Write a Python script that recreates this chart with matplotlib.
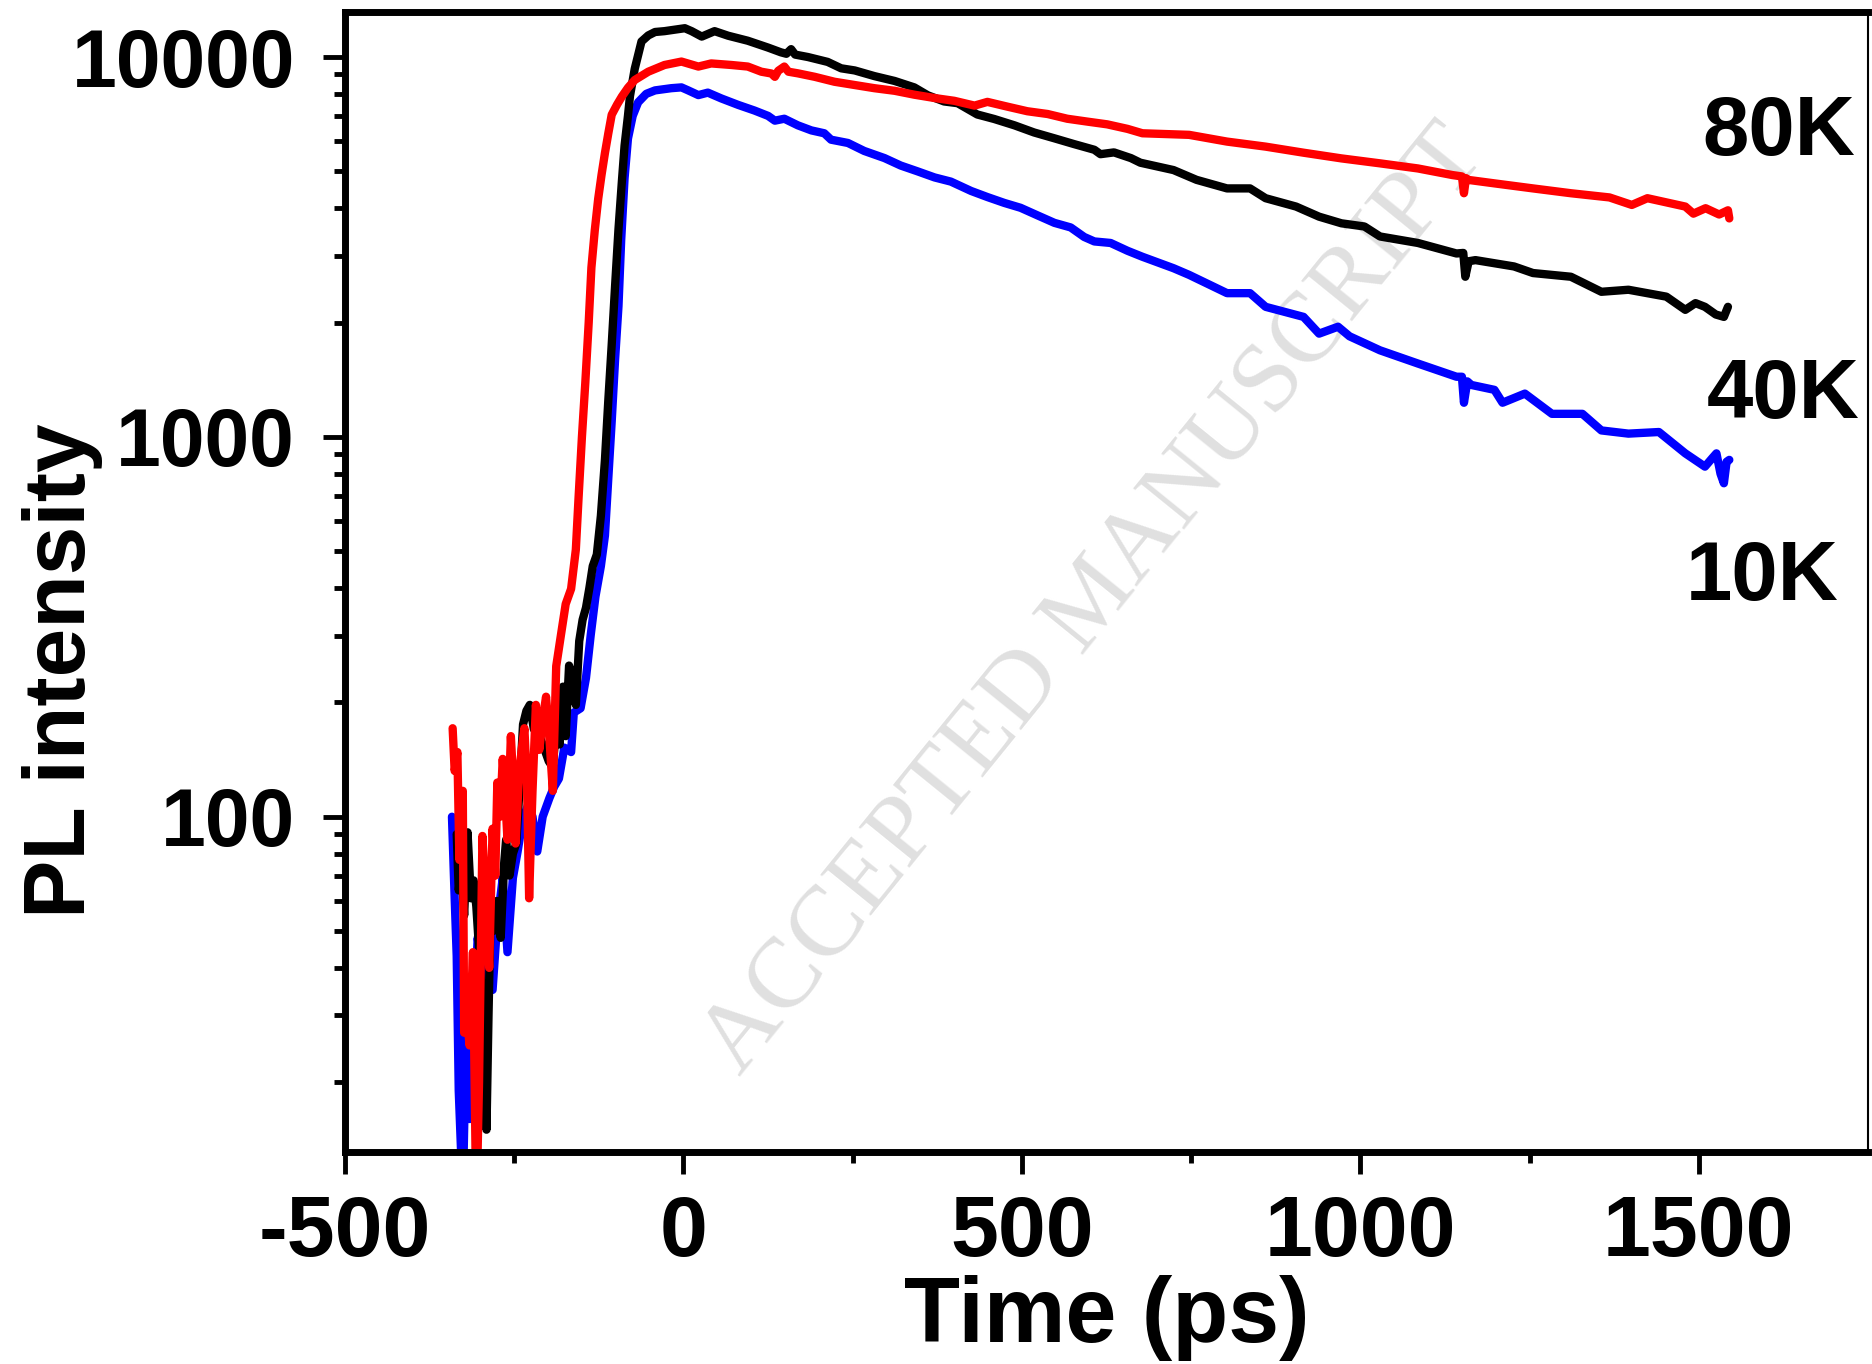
import numpy as np
import matplotlib
matplotlib.use('Agg')
import matplotlib.pyplot as plt
from matplotlib.ticker import LogLocator, NullFormatter

plt.rcParams['font.family'] = 'Liberation Sans'
plt.rcParams['font.weight'] = 'bold'
plt.rcParams['axes.unicode_minus'] = False

# 10K (blue) - time in ps, PL counts
t_10k = [-342, -338, -335, -332, -326, -321, -316, -311, -304, -297, -289, -282, -275, -267,
         -260, -252, -245, -238, -230, -223, -216, -208, -198, -191, -184, -176, -166, -162,
         -152, -144, -137, -130, -122, -116, -111, -106, -101, -96, -92, -87, -82, -75, -67,
         -55, -42, -18, -3, 7, 22, 36, 56, 81, 105, 125, 135, 149, 169, 189, 208, 218, 243,
         267, 297, 321, 346, 371, 395, 425, 449, 474, 498, 523, 548, 572, 592, 607, 631, 656,
         678, 724, 747, 803, 837, 860, 916, 939, 967, 984, 1029, 1085, 1142, 1150, 1153, 1158,
         1164, 1198, 1210, 1243, 1283, 1328, 1356, 1396, 1441, 1480, 1509, 1520, 1526, 1532,
         1537, 1541, 1545]
pl_10k = [100, 61, 43, 19, 10, 28, 16, 26, 48, 38, 54, 35, 53, 69, 44, 69, 81, 97, 107, 100,
          81, 100, 112, 120, 126, 152, 148, 188, 193, 232, 301, 380, 457, 550, 780, 1100, 1600,
          2210, 3300, 4800, 6100, 7000, 7600, 8000, 8170, 8280, 8320, 8170, 7940, 8060, 7780,
          7480, 7230, 7000, 6800, 6880, 6610, 6410, 6300, 6060, 5940, 5660, 5420, 5180, 5000,
          4820, 4700, 4440, 4280, 4130, 4010, 3830, 3660, 3560, 3360, 3270, 3240, 3090, 2980,
          2780, 2670, 2390, 2390, 2200, 2070, 1870, 1950, 1840, 1690, 1560, 1440, 1440, 1230,
          1400, 1370, 1330, 1230, 1300, 1150, 1150, 1040, 1020, 1030, 905, 835, 880, 905, 800,
          755, 860, 870]

# 40K (black)
t_40k = [-335, -332, -328, -324, -319, -314, -310, -306, -301, -296, -291, -288, -285, -281,
         -276, -270, -265, -262, -257, -252, -247, -242, -237, -232, -227, -221, -216, -211,
         -205, -199, -193, -188, -183, -178, -174, -169, -164, -159, -154, -149, -144, -139,
         -134, -128, -122, -116, -111, -106, -101, -96, -91, -87, -82, -79, -72, -62, -52,
         -42, -28, -18, 2, 12, 27, 46, 66, 95, 125, 144, 152, 159, 165, 184, 213, 233, 253,
         282, 312, 341, 361, 385, 405, 434, 459, 489, 518, 548, 577, 607, 616, 636, 661, 675,
         724, 758, 803, 837, 860, 905, 939, 972, 1006, 1029, 1085, 1142, 1152, 1155, 1160,
         1170, 1227, 1255, 1311, 1356, 1396, 1452, 1480, 1495, 1509, 1525, 1537, 1543]
pl_40k = [90, 64, 75, 55, 91, 61, 68, 58, 42, 30, 15, 30, 55, 50, 60, 48, 75, 87, 70, 80, 85,
          120, 175, 190, 197, 170, 180, 160, 150, 140, 135, 175, 155, 220, 163, 250, 230, 197,
          290, 330, 355, 400, 457, 490, 620, 870, 1250, 1750, 2500, 3520, 4700, 5850, 7000,
          7900, 9310, 10990, 11400, 11640, 11700, 11770, 11910, 11700, 11320, 11700, 11380,
          11040, 10590, 10290, 10200, 10490, 10150, 10000, 9710, 9340, 9220, 8910, 8650, 8320,
          7930, 7640, 7560, 7060, 6870, 6610, 6330, 6110, 5900, 5700, 5550, 5610, 5420, 5270,
          5040, 4750, 4510, 4510, 4250, 4040, 3800, 3650, 3580, 3370, 3240, 3040, 3050, 2640,
          2900, 2920, 2810, 2700, 2640, 2410, 2440, 2340, 2160, 2250, 2200, 2100, 2070, 2200]

# 80K (red)
t_80k = [-341, -338, -334, -331, -328, -326, -324, -320, -316, -311, -306, -302, -299, -297,
         -292, -287, -282, -278, -275, -271, -267, -263, -260, -255, -250, -248, -243, -239,
         -235, -231, -228, -226, -223, -218, -213, -208, -203, -198, -193, -188, -181, -174,
         -166, -159, -155, -150, -145, -140, -136, -131, -126, -121, -116, -111, -106, -98,
         -91, -82, -72, -52, -28, -3, 22, 41, 71, 95, 115, 130, 135, 140, 149, 155, 169, 194,
         223, 253, 282, 312, 341, 371, 400, 430, 449, 479, 508, 538, 567, 597, 626, 656, 678,
         747, 803, 860, 916, 972, 1029, 1085, 1136, 1150, 1153, 1156, 1159, 1198, 1255, 1311,
         1368, 1401, 1424, 1480, 1492, 1510, 1530, 1543, 1545]
pl_80k = [171, 132, 148, 77, 100, 117, 27, 30, 25, 44, 9, 20, 48, 89, 60, 40, 93, 70, 123, 100,
          142, 110, 87, 163, 110, 85, 129, 150, 171, 120, 61, 80, 117, 197, 150, 180, 207, 160,
          117, 249, 301, 363, 398, 505, 690, 1000, 1390, 2000, 2790, 3500, 4230, 4900, 5590,
          6300, 7050, 7500, 7870, 8300, 8700, 9150, 9530, 9730, 9440, 9620, 9530, 9440, 9150,
          9050, 8870, 9200, 9440, 9150, 9060, 8870, 8610, 8440, 8280, 8150, 7960, 7800, 7670,
          7450, 7620, 7400, 7200, 7080, 6880, 6760, 6650, 6470, 6300, 6240, 5990, 5810, 5600,
          5410, 5250, 5090, 4890, 4850, 4380, 4800, 4750, 4650, 4510, 4380, 4270, 4080, 4250,
          4040, 3870, 4000, 3850, 3950, 3760]

labels = ['80K', '40K', '10K']
label_t = [1618, 1625, 1593]
label_pl = [5520, 1122, 371]

fig = plt.figure(figsize=(18.72, 13.64), dpi=100)
ax = fig.add_axes([0.1843, 0.1554, 0.8136, 0.8358])

line_kw = dict(lw=6, solid_joinstyle='round', solid_capstyle='round', zorder=2)
ax.plot(t_10k, pl_10k, color='#0000ff', **line_kw)
ax.plot(t_40k, pl_40k, color='#000000', **line_kw)
ax.plot(t_80k, pl_80k, color='#ff0000', **line_kw)

ax.set_yscale('log')
ax.set_xlim(-500, 1750)
ax.set_ylim(13.1, 13140)

ax.set_xticks([-500, 0, 500, 1000, 1500])
ax.set_xticks([-250, 250, 750, 1250], minor=True)
ax.set_yticks([100, 1000, 10000])
ax.set_yticklabels(['100', '1000', '10000'])
ax.yaxis.set_minor_locator(LogLocator(base=10, subs=np.arange(2, 10)))
ax.yaxis.set_minor_formatter(NullFormatter())

ax.tick_params(which='major', direction='out', length=16, width=3.5, top=False, right=False)
ax.tick_params(which='minor', direction='out', length=8, width=3.5, top=False, right=False)
ax.tick_params(axis='x', which='major', labelsize=62, pad=14)
ax.tick_params(axis='y', which='major', labelsize=58, pad=20)

for side in ['left', 'bottom', 'top']:
    ax.spines[side].set_linewidth(5)
ax.spines['right'].set_linewidth(1.5)

ax.set_xlabel('Time (ps)', fontsize=66, fontweight='bold')
ax.xaxis.set_label_coords(0.5, -0.108)
ax.set_ylabel('PL intensity', fontsize=63, fontweight='bold')
ax.yaxis.set_label_coords(-0.159, 0.422)

for lab, tx, ty in zip(labels, label_t, label_pl):
    ax.text(tx, ty, lab, fontsize=60, fontweight='bold', ha='center', va='baseline')

# faint watermark behind the curves
ax.text(0.492, 0.484, 'ACCEPTED MANUSCRIPT', transform=ax.transAxes, rotation=51,
        rotation_mode='anchor', ha='center', va='center', fontsize=72,
        family='Liberation Serif', fontweight='normal', color='#e0e0e0', zorder=1)

fig.savefig('out.png', dpi=100)
